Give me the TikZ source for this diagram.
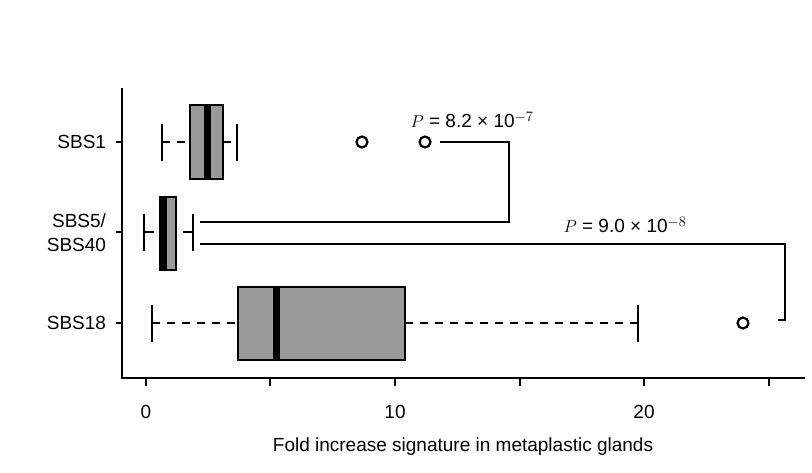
\documentclass[tikz,border=0pt]{standalone}
\usepackage{fontspec}
\setmainfont{Liberation Sans}
\usepackage{tikz}
\usetikzlibrary{positioning}

\begin{document}
\begin{tikzpicture}[x=1pt,y=-1pt,line width=2pt,
  lab/.style={font=\fontsize{19}{22}\selectfont,inner sep=0pt},
  boxfill/.style={fill=black!40,draw=black,line width=2.2pt},
  med/.style={line width=7pt},
  whisk/.style={dashed,dash pattern=on 8pt off 7pt},
  outl/.style={draw,circle,line width=2.2pt,minimum size=11pt,inner sep=0pt}]
  \useasboundingbox (0,0) rectangle (812,473);

% axes
  \draw[line width=1.4pt] (122,88) -- (122,378) -- (805,378);
  \foreach \y in {142,232,323} {
      \draw[line width=1.2pt] (116,\y) -- (122,\y);
  }
  \foreach \x in {146,270,395,520,644,769} {
      \draw[line width=1.2pt] (\x,378) -- (\x,386);
  }
  \node[lab] (t0) at (146,412) {0};
  \node[lab] (t10) at (395,412) {10};
  \node[lab] (t20) at (644,412) {20};
  \node[lab] (xlab) at (463,447) {Fold increase signature in metaplastic glands};

% row labels
  \node[lab,anchor=east] (r1) at (107,142) {SBS1};
  \node[lab,anchor=east,align=right] (r2) at (107,233) {SBS5/\\[2pt]SBS40};
  \node[lab,anchor=east] (r3) at (107,323) {SBS18};

% SBS1
  \draw[whisk] (162,142) -- (190,142) (223,142) -- (237,142);
  \draw (162,124) -- (162,161) (237,124) -- (237,161);
  \draw[boxfill] (190,105) rectangle (223,179);
  \draw[med] (207,106) -- (207,178);
  \node[outl] (o1) at (362,142) {};
  \node[outl] (o2) at (425,142) {};

% SBS5/SBS40
  \draw (144,214) -- (144,251) (144,232) -- (154,232);
  \draw (193,214) -- (193,251) (183,232) -- (193,232);
  \draw[boxfill] (160,197) rectangle (176,270);
  \draw[med] (163.5,198) -- (163.5,269);

% SBS18
  \draw[whisk] (152,323) -- (238,323) (405,323) -- (638,323);
  \draw (152,305) -- (152,342) (638,305) -- (638,342);
  \draw[boxfill] (238,287) rectangle (405,360);
  \draw[med] (276,288) -- (276,359);
  \node[outl] (o3) at (743,323) {};

% brackets
  \coordinate (b1a) at (440,142);
  \coordinate (b1b) at (509,142);
  \coordinate (b1c) at (509,222);
  \coordinate (b1d) at (200,222);
  \draw (b1a) -- (b1b) -- (b1c) -- (b1d);
  \node[lab,anchor=south] (p1) at (472,129) {$P$ = 8.2 × 10$^{-7}$};
  \coordinate (b2a) at (200,244);
  \coordinate (b2b) at (785,244);
  \coordinate (b2c) at (785,320);
  \coordinate (b2d) at (778,320);
  \draw (b2a) -- (b2b) -- (b2c) -- (b2d);
  \node[lab,anchor=south] (p2) at (625,234) {$P$ = 9.0 × 10$^{-8}$};
\end{tikzpicture}
\end{document}
